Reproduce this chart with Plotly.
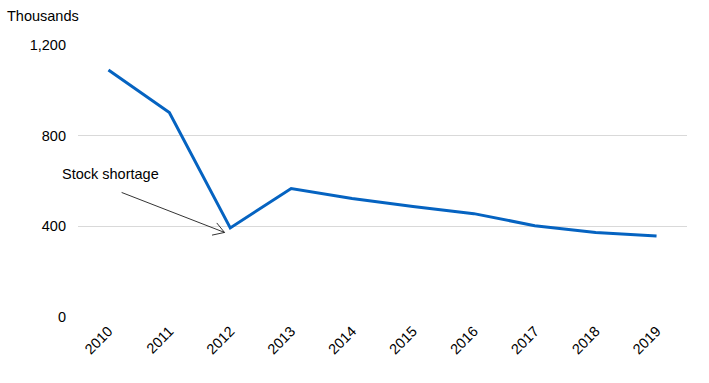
import plotly.graph_objects as go

years = ["2010", "2011", "2012", "2013", "2014", "2015", "2016", "2017", "2018", "2019"]
values = [1090, 902, 393, 567, 523, 487, 456, 403, 373, 357]
y_ticks = [0, 400, 800, 1200]
y_tick_labels = ["0", "400", "800", "1,200"]

fig = go.Figure()
fig.add_trace(go.Scatter(
    x=list(range(len(years))), y=values, mode="lines",
    line=dict(color="#0563c1", width=3), hoverinfo="skip", showlegend=False,
))

font = dict(family="Liberation Sans, Arial, sans-serif", size=14.5, color="#000000")

tip_x, tip_y = 1.906, 373
fig.add_annotation(
    x=tip_x, y=tip_y, xref="x", yref="y",
    ax=0.192, ay=552, axref="x", ayref="y",
    text="", showarrow=True, arrowhead=0, arrowwidth=0.8, arrowcolor="#000000",
)
for dx, dy in [(-9, -11), (-14, 3)]:
    fig.add_annotation(
        x=tip_x, y=tip_y, xref="x", yref="y", ax=dx, ay=dy,
        text="", showarrow=True, arrowhead=0, arrowwidth=0.8, arrowcolor="#000000",
    )
fig.add_annotation(
    x=0.036, y=629, xref="x", yref="y", text="Stock shortage",
    showarrow=False, font=font, xanchor="center", yanchor="middle",
)
fig.add_annotation(
    x=(5 - 78) / 609.0, y=(383 - 66 - 16) / 272.0, xref="paper", yref="paper",
    text="Thousands", showarrow=False, font=font, xanchor="left", yanchor="middle",
)

fig.update_layout(
    width=709, height=383,
    margin=dict(l=78, r=22, t=45, b=66),
    paper_bgcolor="white", plot_bgcolor="white",
    font=font,
    xaxis=dict(
        range=[-0.5, len(years) - 0.5],
        tickmode="array", tickvals=list(range(len(years))), ticktext=years,
        tickangle=-45, showgrid=False, zeroline=False, showline=False,
        ticks="", ticklabelstandoff=2, fixedrange=True,
    ),
    yaxis=dict(
        range=[0, 1200], tickmode="array", tickvals=y_ticks, ticktext=y_tick_labels,
        showgrid=True, gridcolor="#d9d9d9", gridwidth=1, zeroline=False,
        showline=False, ticks="", ticklabelstandoff=11, fixedrange=True,
    ),
)

fig.write_html("out.html")
